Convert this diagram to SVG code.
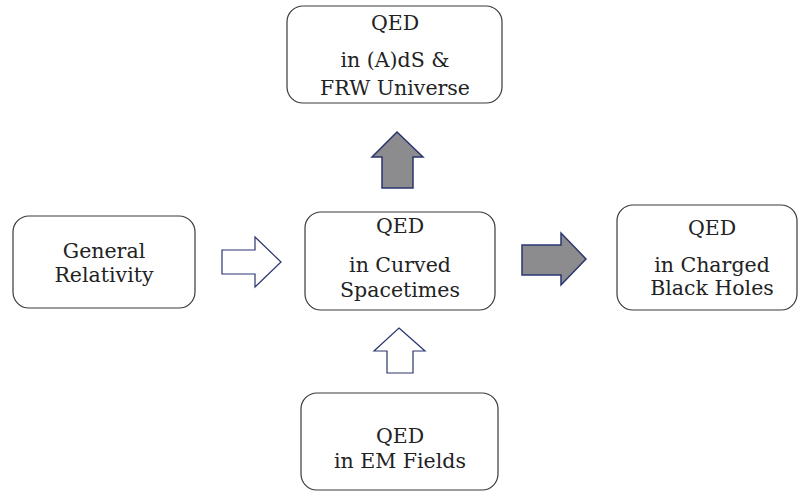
<svg xmlns="http://www.w3.org/2000/svg" width="799" height="493" viewBox="0 0 799 493">
<style>
.box{fill:#fff;stroke:#3a3a3a;stroke-width:1.2}
.t{font-family:"DejaVu Serif","Liberation Serif",serif;font-size:20.5px;fill:#222;text-anchor:middle}
.hollow{fill:#fff;stroke:#2a3570;stroke-width:1.2;stroke-linejoin:miter}
.filled{fill:#8c8c8e;stroke:#2a3570;stroke-width:1.5;stroke-linejoin:miter}
</style>
<rect width="799" height="493" fill="#fff"/>
<g id="node-ads">
<rect class="box" x="287" y="6" width="215" height="97" rx="16"/>
<text class="t" x="395" y="30">QED</text>
<text class="t" x="395" y="67">in (A)dS &amp;</text>
<text class="t" x="395" y="95">FRW Universe</text>
</g>
<g id="node-gr">
<rect class="box" x="13" y="216" width="182" height="92" rx="16"/>
<text class="t" x="104" y="258">General</text>
<text class="t" x="104" y="282">Relativity</text>
</g>
<g id="node-curved">
<rect class="box" x="305" y="212" width="190" height="98" rx="16"/>
<text class="t" x="400" y="233">QED</text>
<text class="t" x="400" y="272">in Curved</text>
<text class="t" x="400" y="297">Spacetimes</text>
</g>
<g id="node-bh">
<rect class="box" x="617" y="205" width="180" height="105" rx="16"/>
<text class="t" x="712" y="235">QED</text>
<text class="t" x="712" y="272">in Charged</text>
<text class="t" x="712" y="295">Black Holes</text>
</g>
<g id="node-em">
<rect class="box" x="301" y="393" width="197" height="97" rx="16"/>
<text class="t" x="400" y="443">QED</text>
<text class="t" x="400" y="468">in EM Fields</text>
</g>
<g id="connectors">
<polygon class="hollow" points="222,250 255,250 255,237 281,262 255,287 255,274 222,274"/>
<polygon class="filled" points="522,245 561,245 561,233 586,259 561,285 561,275 522,275"/>
<polygon class="hollow" points="399,328 425,351 413,351 413,373 387,373 387,351 374,351"/>
<polygon class="filled" points="397,132 423,157 413,157 413,188 382,188 382,157 372,157"/>
</g>
</svg>
